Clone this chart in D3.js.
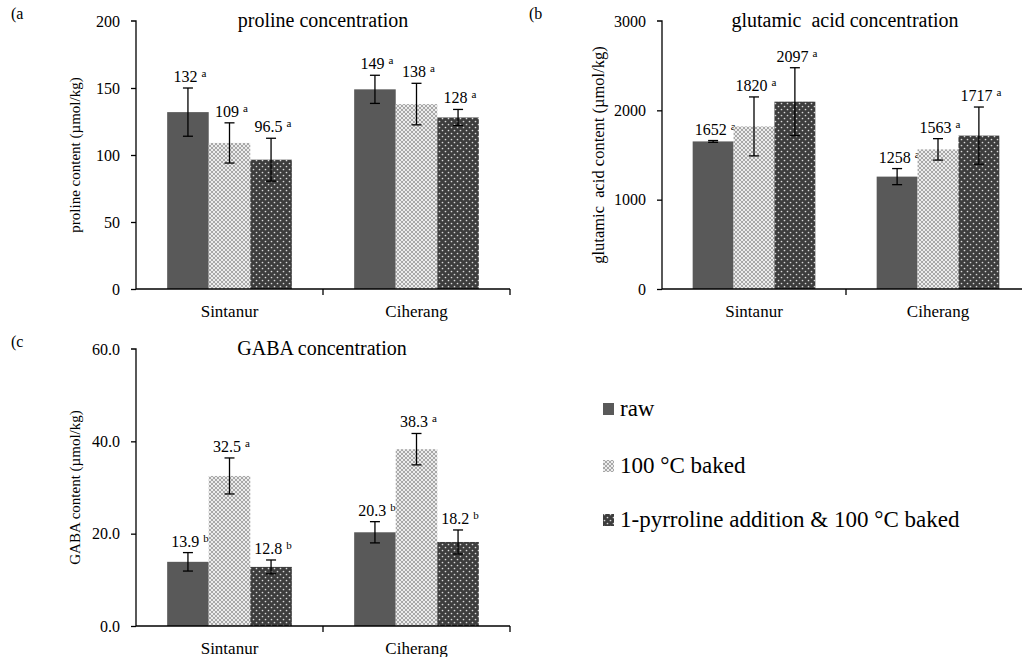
<!DOCTYPE html>
<html>
<head>
<meta charset="utf-8">
<script src="https://cdn.jsdelivr.net/npm/d3@7"></script>
<style>
  html, body { margin: 0; padding: 0; background: #fff; }
  svg { display: block; }
  svg text { font-family: "Liberation Serif", "Times New Roman", serif; }
</style>
</head>
<body>
<svg id="chart" width="1022" height="657"></svg>
<script>
// Rice cultivars and treatments
const cultivars = ["Sintanur", "Ciherang"];
const treatments = ["raw", "100 °C baked", "1-pyrroline addition & 100 °C baked"];

// Proline (µmol/kg): means, error half-widths and significance letters
const prolineValues = [[132, 109, 96.5], [149, 138, 128]];
const prolineErrors = [[18, 15, 16], [10.5, 15.5, 6]];
const prolineLabels = [["132", "109", "96.5"], ["149", "138", "128"]];
const prolineLetters = [["a", "a", "a"], ["a", "a", "a"]];
const prolineTicks = [0, 50, 100, 150, 200];

// Glutamic acid (µmol/kg)
const glutamicValues = [[1652, 1820, 2097], [1258, 1563, 1717]];
const glutamicErrors = [[10, 330, 380], [90, 120, 320]];
const glutamicLabels = [["1652", "1820", "2097"], ["1258", "1563", "1717"]];
const glutamicLetters = [["a", "a", "a"], ["a", "a", "a"]];
const glutamicTicks = [0, 1000, 2000, 3000];

// GABA (µmol/kg)
const gabaValues = [[13.9, 32.5, 12.8], [20.3, 38.3, 18.2]];
const gabaErrors = [[2.0, 3.9, 1.5], [2.3, 3.4, 2.6]];
const gabaLabels = [["13.9", "32.5", "12.8"], ["20.3", "38.3", "18.2"]];
const gabaLetters = [["b", "a", "b"], ["b", "a", "b"]];
const gabaTicks = [0, 20, 40, 60];

const FONT = "Liberation Serif, Times New Roman, serif";
const svg = d3.select("#chart").attr("font-family", FONT);
const defs = svg.append("defs");

// Lattice fill for the baked bars
const lattice = defs.append("pattern")
  .attr("id", "lattice").attr("patternUnits", "userSpaceOnUse")
  .attr("width", 4).attr("height", 4);
lattice.append("rect").attr("width", 4).attr("height", 4).attr("fill", "#ececec");
lattice.append("path").attr("d", "M0,0 L4,4 M4,0 L0,4")
  .attr("stroke", "#a8a8a8").attr("stroke-width", 1);

// Dotted dark fill for the 1-pyrroline bars
const dots = defs.append("pattern")
  .attr("id", "dots").attr("patternUnits", "userSpaceOnUse")
  .attr("width", 6).attr("height", 6);
dots.append("rect").attr("width", 6).attr("height", 6).attr("fill", "#3d3d3d");
dots.append("circle").attr("cx", 1.5).attr("cy", 1.5).attr("r", 0.85).attr("fill", "#d8d8d8");
dots.append("circle").attr("cx", 4.5).attr("cy", 4.5).attr("r", 0.85).attr("fill", "#d8d8d8");

const fills = ["#595959", "url(#lattice)", "url(#dots)"];

function drawPanel(p) {
  const g = svg.append("g");
  const x = d3.scaleBand().domain(cultivars).range([p.x0, p.x1]).padding(0);
  const xs = d3.scaleBand().domain(treatments).range([0, x.bandwidth()])
    .paddingInner(0).paddingOuter(0.75);
  const y = d3.scaleLinear().domain(p.domain).range([p.yBottom, p.yTop]);

  // bars
  cultivars.forEach((c, ci) => {
    treatments.forEach((t, ti) => {
      const v = p.values[ci][ti];
      const e = p.errors[ci][ti];
      const bx = x(c) + xs(t);
      const cx = bx + xs.bandwidth() / 2;
      g.append("rect")
        .attr("x", bx).attr("y", y(v))
        .attr("width", xs.bandwidth()).attr("height", y(0) - y(v))
        .attr("fill", fills[ti]);
      // error bar
      const eg = g.append("g").attr("stroke", "#000").attr("stroke-width", 1.3);
      eg.append("line").attr("x1", cx).attr("x2", cx).attr("y1", y(v + e)).attr("y2", y(v - e));
      eg.append("line").attr("x1", cx - 5).attr("x2", cx + 5).attr("y1", y(v + e)).attr("y2", y(v + e));
      eg.append("line").attr("x1", cx - 5).attr("x2", cx + 5).attr("y1", y(v - e)).attr("y2", y(v - e));
      // value label with significance letter
      const txt = g.append("text")
        .attr("x", cx + 2).attr("y", y(v + e) - 6)
        .attr("text-anchor", "middle").attr("font-family", FONT)
        .attr("font-size", 16).attr("fill", "#000");
      txt.append("tspan").text(p.labels[ci][ti] + " ");
      txt.append("tspan").attr("font-size", 11).attr("dy", -5).text(p.letters[ci][ti]);
    });
  });

  // y axis
  const yAxis = d3.axisLeft(y).tickValues(p.ticks).tickSize(5).tickPadding(11)
    .tickFormat(p.format || (d => d));
  const ya = g.append("g").attr("transform", `translate(${p.x0},0)`).call(yAxis)
    .attr("font-family", FONT);
  ya.select(".domain").attr("d", `M-5,${p.yTop}H0V${p.yBottom}`).attr("stroke", "#000").attr("stroke-width", 1.3);
  ya.selectAll(".tick line").attr("stroke", "#000").attr("stroke-width", 1.3);
  ya.selectAll(".tick text").attr("font-size", 16).attr("font-family", FONT).attr("fill", "#000");
  ya.selectAll(".tick").filter(d => d === p.ticks[p.ticks.length - 1]).select("line").remove();

  // x axis: baseline with ticks at category boundaries
  g.append("line").attr("x1", p.x0).attr("x2", p.x1)
    .attr("y1", p.yBottom).attr("y2", p.yBottom)
    .attr("stroke", "#000").attr("stroke-width", 1.3);
  cultivars.forEach(c => {
    const bx = x(c) + x.bandwidth();
    g.append("line").attr("x1", bx).attr("x2", bx)
      .attr("y1", p.yBottom).attr("y2", p.yBottom + 6)
      .attr("stroke", "#000").attr("stroke-width", 1.3);
    g.append("text").attr("x", x(c) + x.bandwidth() / 2).attr("y", p.yBottom + 28)
      .attr("text-anchor", "middle").attr("font-family", FONT).attr("font-size", 17).text(c);
  });

  // titles
  g.append("text").attr("x", p.titleX).attr("y", p.yTop + 6)
    .attr("text-anchor", "middle").attr("font-family", FONT).attr("font-size", 20)
    .attr("xml:space", "preserve").text(p.title);
  g.append("text")
    .attr("transform", `translate(${p.yTitleX},${(p.yTop + p.yBottom) / 2}) rotate(-90)`)
    .attr("text-anchor", "middle").attr("font-family", FONT).attr("font-size", p.yTitleSize || 15)
    .attr("xml:space", "preserve").text(p.yTitle);
  g.append("text").attr("x", p.tagX).attr("y", p.yTop - 2)
    .attr("font-family", FONT).attr("font-size", 16).text(p.tag);
}

drawPanel({
  tag: "(a", tagX: 11,
  x0: 136, x1: 510, yTop: 21, yBottom: 289,
  domain: [0, 200], ticks: prolineTicks,
  values: prolineValues, errors: prolineErrors, labels: prolineLabels, letters: prolineLetters,
  title: "proline concentration", titleX: 323,
  yTitle: "proline content (µmol/kg)", yTitleX: 80
});

drawPanel({
  tag: "(b", tagX: 529,
  x0: 662, x1: 1030, yTop: 21, yBottom: 289,
  domain: [0, 3000], ticks: glutamicTicks,
  values: glutamicValues, errors: glutamicErrors, labels: glutamicLabels, letters: glutamicLetters,
  title: "glutamic  acid concentration", titleX: 845,
  yTitle: "glutamic  acid content (µmol/kg)", yTitleX: 604, yTitleSize: 16.5
});

drawPanel({
  tag: "(c", tagX: 11,
  x0: 136, x1: 510, yTop: 349, yBottom: 626,
  domain: [0, 60], ticks: gabaTicks, format: d3.format(".1f"),
  values: gabaValues, errors: gabaErrors, labels: gabaLabels, letters: gabaLetters,
  title: "GABA concentration", titleX: 322,
  yTitle: "GABA content (µmol/kg)", yTitleX: 80
});

// legend
const legendY = [409, 466, 520];
const lg = svg.append("g");
treatments.forEach((t, i) => {
  lg.append("rect").attr("x", 603).attr("y", legendY[i] - 6)
    .attr("width", 11).attr("height", 12).attr("fill", fills[i]);
  lg.append("text").attr("x", 620).attr("y", legendY[i] + 7)
    .attr("font-family", FONT).attr("font-size", 23).text(t);
});
</script>
</body>
</html>
